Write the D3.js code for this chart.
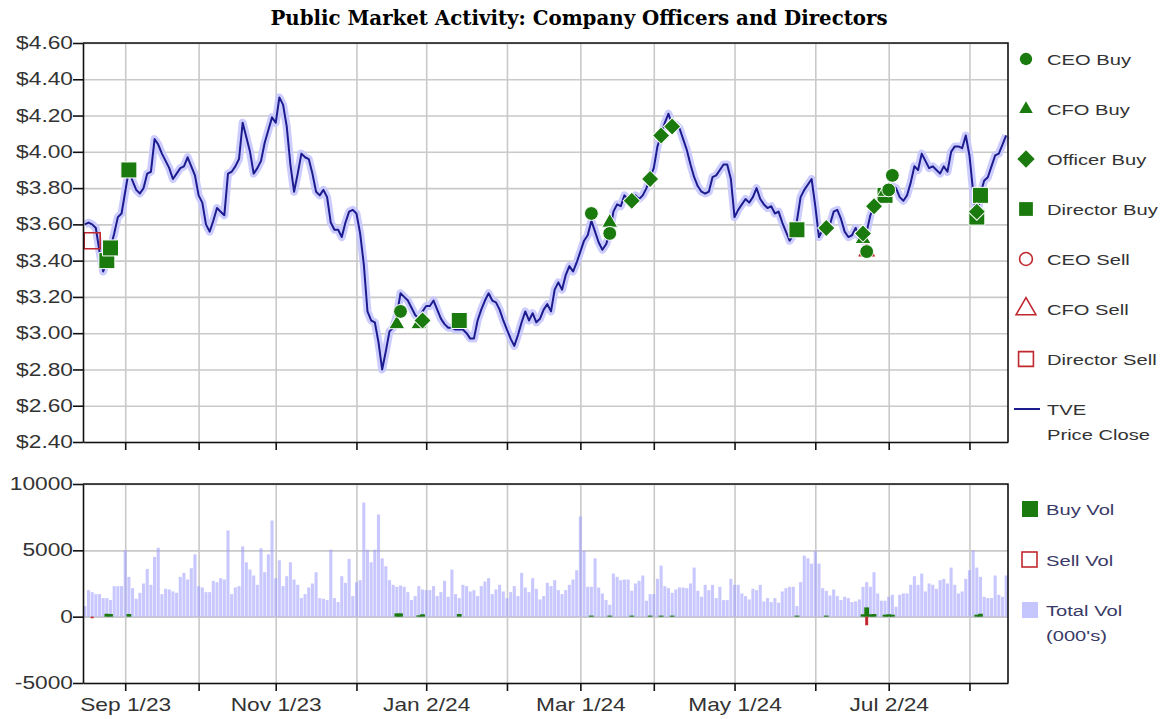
<html>
<head>
<script src="https://d3js.org/d3.v7.min.js"></script>
<style>
  body { margin: 0; background: #fff; }
  .grid line { stroke: #c9c9c9; stroke-width: 1.6; }
  .grid .domain { stroke: none; }
  .axis path, .axis line { stroke: #111; stroke-width: 1.6; }
  .axis text { font-family: "Liberation Sans", Arial, sans-serif; font-size: 17.5px; fill: #333; }
  .lbl { font-family: "Liberation Sans", Arial, sans-serif; }
</style>
</head>
<body>
<svg id="chart" width="1162" height="719"></svg>
<script>
// x runs over TSX trading days, index 0 = Aug 17 2023
const tickDays = [11, 31, 52, 74, 93, 115, 135, 155, 177, 199, 219, 241];
const tickLabels = ["Sep 1/23", "", "Nov 1/23", "", "Jan 2/24", "", "Mar 1/24", "", "May 1/24", "", "Jul 2/24", ""];
const priceTicks = [2.4, 2.6, 2.8, 3.0, 3.2, 3.4, 3.6, 3.8, 4.0, 4.2, 4.4, 4.6];
const volTicks = [-5000, 0, 5000, 10000];

const priceClose = [
  3.60, 3.61, 3.60, 3.58, 3.45, 3.34, 3.40, 3.47, 3.55, 3.64, 3.66, 3.78, 3.90, 3.84, 3.79, 3.77, 3.80, 3.88, 3.89, 4.07,
  4.04, 3.99, 3.95, 3.91, 3.85, 3.88, 3.91, 3.92, 3.97, 3.92, 3.87, 3.76, 3.72, 3.60, 3.56, 3.62, 3.69, 3.67, 3.65, 3.88,
  3.89, 3.92, 3.96, 4.16, 4.08, 4.00, 3.88, 3.91, 3.95, 4.05, 4.12, 4.19, 4.16, 4.30, 4.26, 4.14, 3.93, 3.78, 3.88, 3.99,
  3.97, 3.96, 3.88, 3.78, 3.76, 3.79, 3.75, 3.61, 3.57, 3.57, 3.53, 3.61, 3.67, 3.68, 3.66, 3.55, 3.38, 3.12, 3.07, 3.06,
  2.95, 2.80, 2.90, 3.01, 3.03, 3.10, 3.22, 3.20, 3.18, 3.14, 3.10, 3.08, 3.12, 3.15, 3.15, 3.18, 3.13, 3.08, 3.05, 3.03,
  3.03, 3.02, 3.02, 3.02, 3.00, 2.97, 2.97, 3.07, 3.13, 3.18, 3.22, 3.18, 3.17, 3.13, 3.07, 3.02, 2.97, 2.93, 2.99, 3.06,
  3.12, 3.07, 3.11, 3.06, 3.08, 3.13, 3.16, 3.12, 3.24, 3.28, 3.24, 3.32, 3.37, 3.34, 3.39, 3.45, 3.51, 3.54, 3.62, 3.56,
  3.50, 3.46, 3.49, 3.55, 3.67, 3.71, 3.70, 3.76, 3.74, 3.73, 3.76, 3.74, 3.76, 3.80, 3.86, 3.91, 4.03, 4.09, 4.16, 4.21,
  4.15, 4.15, 4.13, 4.07, 4.01, 3.93, 3.86, 3.81, 3.78, 3.77, 3.78, 3.86, 3.87, 3.90, 3.93, 3.93, 3.85, 3.64, 3.68, 3.71,
  3.74, 3.72, 3.75, 3.80, 3.74, 3.71, 3.69, 3.70, 3.66, 3.67, 3.61, 3.56, 3.51, 3.54, 3.62, 3.75, 3.79, 3.82, 3.85, 3.70,
  3.53, 3.57, 3.58, 3.60, 3.67, 3.68, 3.63, 3.56, 3.53, 3.54, 3.58, 3.53, 3.51, 3.56, 3.65, 3.70, 3.72, 3.75, 3.76, 3.80,
  3.81, 3.80, 3.75, 3.73, 3.76, 3.83, 3.92, 3.90, 3.99, 3.95, 3.91, 3.92, 3.90, 3.88, 3.92, 3.89, 4.00, 4.03, 4.03, 4.02,
  4.09, 3.98, 3.78, 3.62, 3.77, 3.84, 3.86, 3.92, 3.98, 3.99, 4.04, 4.09
];

const totalVol = [
  800, 2000, 1850, 1700, 1700, 1400, 1400, 1250, 2300, 2300, 2300, 5000, 3000, 2150, 1350, 1800, 2500, 3600, 2400, 4500,
  5200, 1700, 2100, 2050, 1900, 1800, 3000, 3300, 2800, 3650, 4700, 2300, 2200, 1850, 1850, 2700, 2600, 2900, 2800, 6500,
  1700, 2200, 2300, 5300, 4100, 3550, 3100, 2400, 5150, 3350, 4700, 7250, 2900, 4250, 2300, 3050, 4100, 2800, 2400, 1400,
  1700, 2200, 2500, 3350, 1400, 1350, 1250, 5050, 1400, 1100, 3050, 2550, 4350, 1550, 2600, 2750, 8600, 5050, 4100, 5050,
  7700, 4400, 3800, 2750, 2400, 2250, 2350, 2250, 1850, 1250, 1550, 2300, 2050, 2000, 2000, 2300, 1550, 1850, 2700, 1500,
  3550, 1700, 1400, 2400, 2300, 1900, 2000, 1550, 2300, 2650, 2900, 1700, 2050, 2400, 1900, 1400, 1850, 2300, 1550, 3300,
  2200, 1850, 2900, 2100, 1300, 1550, 2550, 2300, 2750, 2000, 1700, 2000, 2400, 2800, 3500, 7550, 4950, 2250, 2250, 4400,
  2200, 1750, 1250, 900, 3250, 3000, 2750, 2800, 2800, 1950, 2500, 2700, 3100, 1200, 1700, 1700, 2850, 3850, 2300, 2150,
  1800, 2050, 2200, 2200, 2150, 2500, 3700, 1950, 1500, 2400, 2000, 2400, 1400, 2250, 1250, 1250, 2850, 2400, 2400, 1750,
  1550, 1300, 2100, 2000, 2400, 1150, 1400, 1100, 1400, 1050, 1900, 2150, 2250, 2250, 800, 2600, 4600, 4400, 4000, 4950,
  4000, 2150, 1950, 1600, 2050, 1550, 1250, 1500, 1400, 1100, 1150, 1300, 2250, 2600, 2250, 3350, 1750, 1200, 1200, 1500,
  1650, 750, 1650, 1750, 1750, 2400, 3050, 2400, 3250, 1900, 2500, 2400, 2100, 2750, 2850, 2500, 3700, 2400, 1750, 1900,
  2850, 3500, 5000, 3700, 3000, 1500, 1400, 1400, 3100, 1650, 1500, 3100
];

const buyVolDays = [6, 7, 12, 85, 86, 91, 92, 102, 138, 143, 149, 154, 157, 160, 194, 202, 212, 213, 214, 215, 218, 219, 220, 243, 244];
const buyVolAmt = [220, 200, 200, 250, 250, 100, 180, 200, 80, 80, 80, 80, 80, 80, 80, 80, 180, 700, 180, 200, 150, 180, 150, 150, 220];
const sellVolDays = [2, 213];
const sellVolAmt = [120, 650];

const ceoBuyDays = [86, 138, 143, 213, 219, 220];
const ceoBuyPrice = [3.12, 3.66, 3.55, 3.45, 3.79, 3.87];
const cfoBuyDays = [85, 91, 143, 212, 218];
const cfoBuyPrice = [3.05, 3.05, 3.61, 3.52, 3.78];
const officerBuyDays = [92, 149, 154, 157, 160, 202, 212, 215, 243];
const officerBuyPrice = [3.07, 3.73, 3.85, 4.09, 4.14, 3.58, 3.55, 3.70, 3.67];
const directorBuyDays = [6, 7, 12, 102, 194, 218, 243, 244];
const directorBuyPrice = [3.40, 3.47, 3.90, 3.07, 3.57, 3.76, 3.64, 3.76];
const cfoSellDays = [213];
const cfoSellPrice = [3.45];
const directorSellDays = [2];
const directorSellPrice = [3.51];

const GREEN = "#1b7a0e", RED = "#c0282d", NAVY = "#1c1c8f", LAV = "#c6c6ff";
const SX = 1.3;   // glyphs in the original are drawn wide

const svg = d3.select("svg#chart");
const left = 83, right = 1008;
const top1 = 43, bot1 = 442, top2 = 484, bot2 = 683;
const N = priceClose.length;

const x = d3.scaleLinear().domain([-0.5, N - 0.5]).range([left, right]);
const y = d3.scaleLinear().domain([2.4, 4.6]).range([bot1, top1]);
const yv = d3.scaleLinear().domain([-5000, 10000]).range([bot2, top2]);
const step = x(1) - x(0);

function wide(sel) {
  sel.selectAll("text").each(function() {
    const t = d3.select(this);
    const xx = +t.attr("x") || 0;
    t.attr("x", xx / SX).attr("transform", "scale(" + SX + ",1)");
  });
}

function label(g, px, py, s, size, fill, anchor) {
  return g.append("text").attr("class", "lbl")
    .attr("transform", "translate(" + px + "," + py + ") scale(" + SX + ",1)")
    .attr("font-size", size).attr("fill", fill)
    .attr("text-anchor", anchor || "start").text(s);
}

// diamonds in the original are squares turned 45 degrees
function shape(type) {
  return type === "diamond" ? d3.symbolSquare : type;
}
function turn(type) {
  return type === "diamond" ? " rotate(45)" : "";
}

// title
svg.append("text").attr("x", 579).attr("y", 25)
  .attr("text-anchor", "middle")
  .attr("font-family", "'DejaVu Serif', serif").attr("font-weight", "bold")
  .attr("font-size", 19.8).attr("fill", "#000")
  .text("Public Market Activity: Company Officers and Directors");

// ---------- price panel ----------
svg.append("g").attr("class", "grid")
  .attr("transform", "translate(" + left + ",0)")
  .call(d3.axisLeft(y).tickValues(priceTicks).tickSize(-(right - left)).tickFormat(""));
svg.append("g").attr("class", "grid")
  .attr("transform", "translate(0," + bot1 + ")")
  .call(d3.axisBottom(x).tickValues(tickDays).tickSize(-(bot1 - top1)).tickFormat(""));

let priceLine = d3.line().x((d, i) => x(i)).y(d => y(d));
svg.append("path").datum(priceClose)
  .attr("d", priceLine).attr("fill", "none")
  .attr("stroke", LAV).attr("stroke-width", 8).attr("stroke-linejoin", "round").attr("opacity", 0.9);
svg.append("path").datum(priceClose)
  .attr("d", priceLine).attr("fill", "none")
  .attr("stroke", NAVY).attr("stroke-width", 2).attr("stroke-linejoin", "round");

function markers(days, prices, type, size, filled) {
  let pts = days.map((d, i) => ({d: d, p: prices[i]}));
  svg.append("g").selectAll("path").data(pts).join("path")
    .attr("transform", d => "translate(" + x(d.d) + "," + y(d.p) + ")" + turn(type))
    .attr("d", d3.symbol().type(shape(type)).size(size))
    .attr("fill", filled ? GREEN : "none")
    .attr("stroke", filled ? "#fff" : RED)
    .attr("stroke-width", filled ? 1 : 1.6);
}
markers(directorSellDays, directorSellPrice, d3.symbolSquare, 256, false);
markers(cfoSellDays, cfoSellPrice, d3.symbolTriangle, 90, false);
markers(directorBuyDays, directorBuyPrice, d3.symbolSquare, 256, true);
markers(cfoBuyDays, cfoBuyPrice, d3.symbolTriangle, 110, true);
markers(officerBuyDays, officerBuyPrice, "diamond", 150, true);
markers(ceoBuyDays, ceoBuyPrice, d3.symbolCircle, 150, true);

let yAxis1 = svg.append("g").attr("class", "axis")
  .attr("transform", "translate(" + left + ",0)")
  .call(d3.axisLeft(y).tickValues(priceTicks).tickSize(10).tickPadding(0).tickSizeOuter(0)
    .tickFormat(d3.format("$.2f")));
wide(yAxis1);
svg.append("g").attr("class", "axis")
  .attr("transform", "translate(0," + bot1 + ")")
  .call(d3.axisBottom(x).tickValues(tickDays).tickSize(8).tickSizeOuter(0).tickFormat(""));
svg.append("path").attr("d", "M" + left + "," + top1 + "H" + right + "V" + bot1)
  .attr("fill", "none").attr("stroke", "#111").attr("stroke-width", 1.6);

// ---------- volume panel ----------
svg.append("g").attr("class", "grid")
  .attr("transform", "translate(" + left + ",0)")
  .call(d3.axisLeft(yv).tickValues(volTicks).tickSize(-(right - left)).tickFormat(""));
svg.append("g").attr("class", "grid")
  .attr("transform", "translate(0," + bot2 + ")")
  .call(d3.axisBottom(x).tickValues(tickDays).tickSize(-(bot2 - top2)).tickFormat(""));

svg.append("g").selectAll("rect").data(totalVol).join("rect")
  .attr("x", (d, i) => x(i) - step / 2 + 0.3)
  .attr("width", step - 0.6)
  .attr("y", d => yv(d))
  .attr("height", d => yv(0) - yv(d))
  .attr("fill", "#9a9aff").attr("opacity", 0.55);

let buyPts = buyVolDays.map((d, i) => ({d: d, v: buyVolAmt[i]}));
svg.append("g").selectAll("rect").data(buyPts).join("rect")
  .attr("x", d => x(d.d) - step * 0.65)
  .attr("width", step * 1.3)
  .attr("y", d => yv(d.v))
  .attr("height", d => yv(0) - yv(d.v))
  .attr("fill", GREEN);
let sellPts = sellVolDays.map((d, i) => ({d: d, v: sellVolAmt[i]}));
svg.append("g").selectAll("rect").data(sellPts).join("rect")
  .attr("x", d => x(d.d) - step * 0.4)
  .attr("width", step * 0.8)
  .attr("y", yv(0))
  .attr("height", d => yv(-d.v) - yv(0))
  .attr("fill", RED);

let yAxis2 = svg.append("g").attr("class", "axis")
  .attr("transform", "translate(" + left + ",0)")
  .call(d3.axisLeft(yv).tickValues(volTicks).tickSize(10).tickPadding(0).tickSizeOuter(0)
    .tickFormat(d => String(d)));
wide(yAxis2);
let xAxis2 = svg.append("g").attr("class", "axis")
  .attr("transform", "translate(0," + bot2 + ")")
  .call(d3.axisBottom(x).tickValues(tickDays).tickSize(8).tickSizeOuter(0)
    .tickFormat((d, i) => tickLabels[i]));
xAxis2.selectAll("text").attr("transform", "scale(" + SX + ",1)").attr("dy", "0.95em");
svg.append("path").attr("d", "M" + left + "," + top2 + "H" + right + "V" + bot2)
  .attr("fill", "none").attr("stroke", "#111").attr("stroke-width", 1.6);

// ---------- legends ----------
const leg = svg.append("g");
const legNames = ["CEO Buy", "CFO Buy", "Officer Buy", "Director Buy", "CEO Sell", "CFO Sell", "Director Sell"];
const legTypes = [d3.symbolCircle, d3.symbolTriangle, "diamond", d3.symbolSquare, d3.symbolCircle, d3.symbolTriangle, d3.symbolSquare];
const legSizes = [120, 80, 150, 190, 130, 170, 220];
legNames.forEach((name, i) => {
  const cy = 59 + i * 50;
  const buy = i < 4;
  leg.append("path")
    .attr("transform", "translate(1026," + cy + ")" + turn(legTypes[i]))
    .attr("d", d3.symbol().type(shape(legTypes[i])).size(legSizes[i]))
    .attr("fill", buy ? GREEN : "none")
    .attr("stroke", buy ? "none" : RED).attr("stroke-width", 1.6);
  label(leg, 1047, cy + 6, name, 15.5, "#333");
});
leg.append("line").attr("x1", 1014).attr("x2", 1040).attr("y1", 409).attr("y2", 409)
  .attr("stroke", NAVY).attr("stroke-width", 2);
label(leg, 1047, 415, "TVE", 15.5, "#333");
label(leg, 1047, 440, "Price Close", 15.5, "#333");

leg.append("rect").attr("x", 1022).attr("y", 501).attr("width", 16).attr("height", 16).attr("fill", GREEN);
label(leg, 1046, 515, "Buy Vol", 15.5, "#3a3a66");
leg.append("rect").attr("x", 1022).attr("y", 552).attr("width", 15).attr("height", 15)
  .attr("fill", "none").attr("stroke", RED).attr("stroke-width", 1.6);
label(leg, 1046, 566, "Sell Vol", 15.5, "#3a3a66");
leg.append("rect").attr("x", 1022).attr("y", 602).attr("width", 16).attr("height", 16).attr("fill", LAV);
label(leg, 1046, 616, "Total Vol", 15.5, "#3a3a66");
label(leg, 1046, 641, "(000's)", 15.5, "#3a3a66");
</script>
</body>
</html>
